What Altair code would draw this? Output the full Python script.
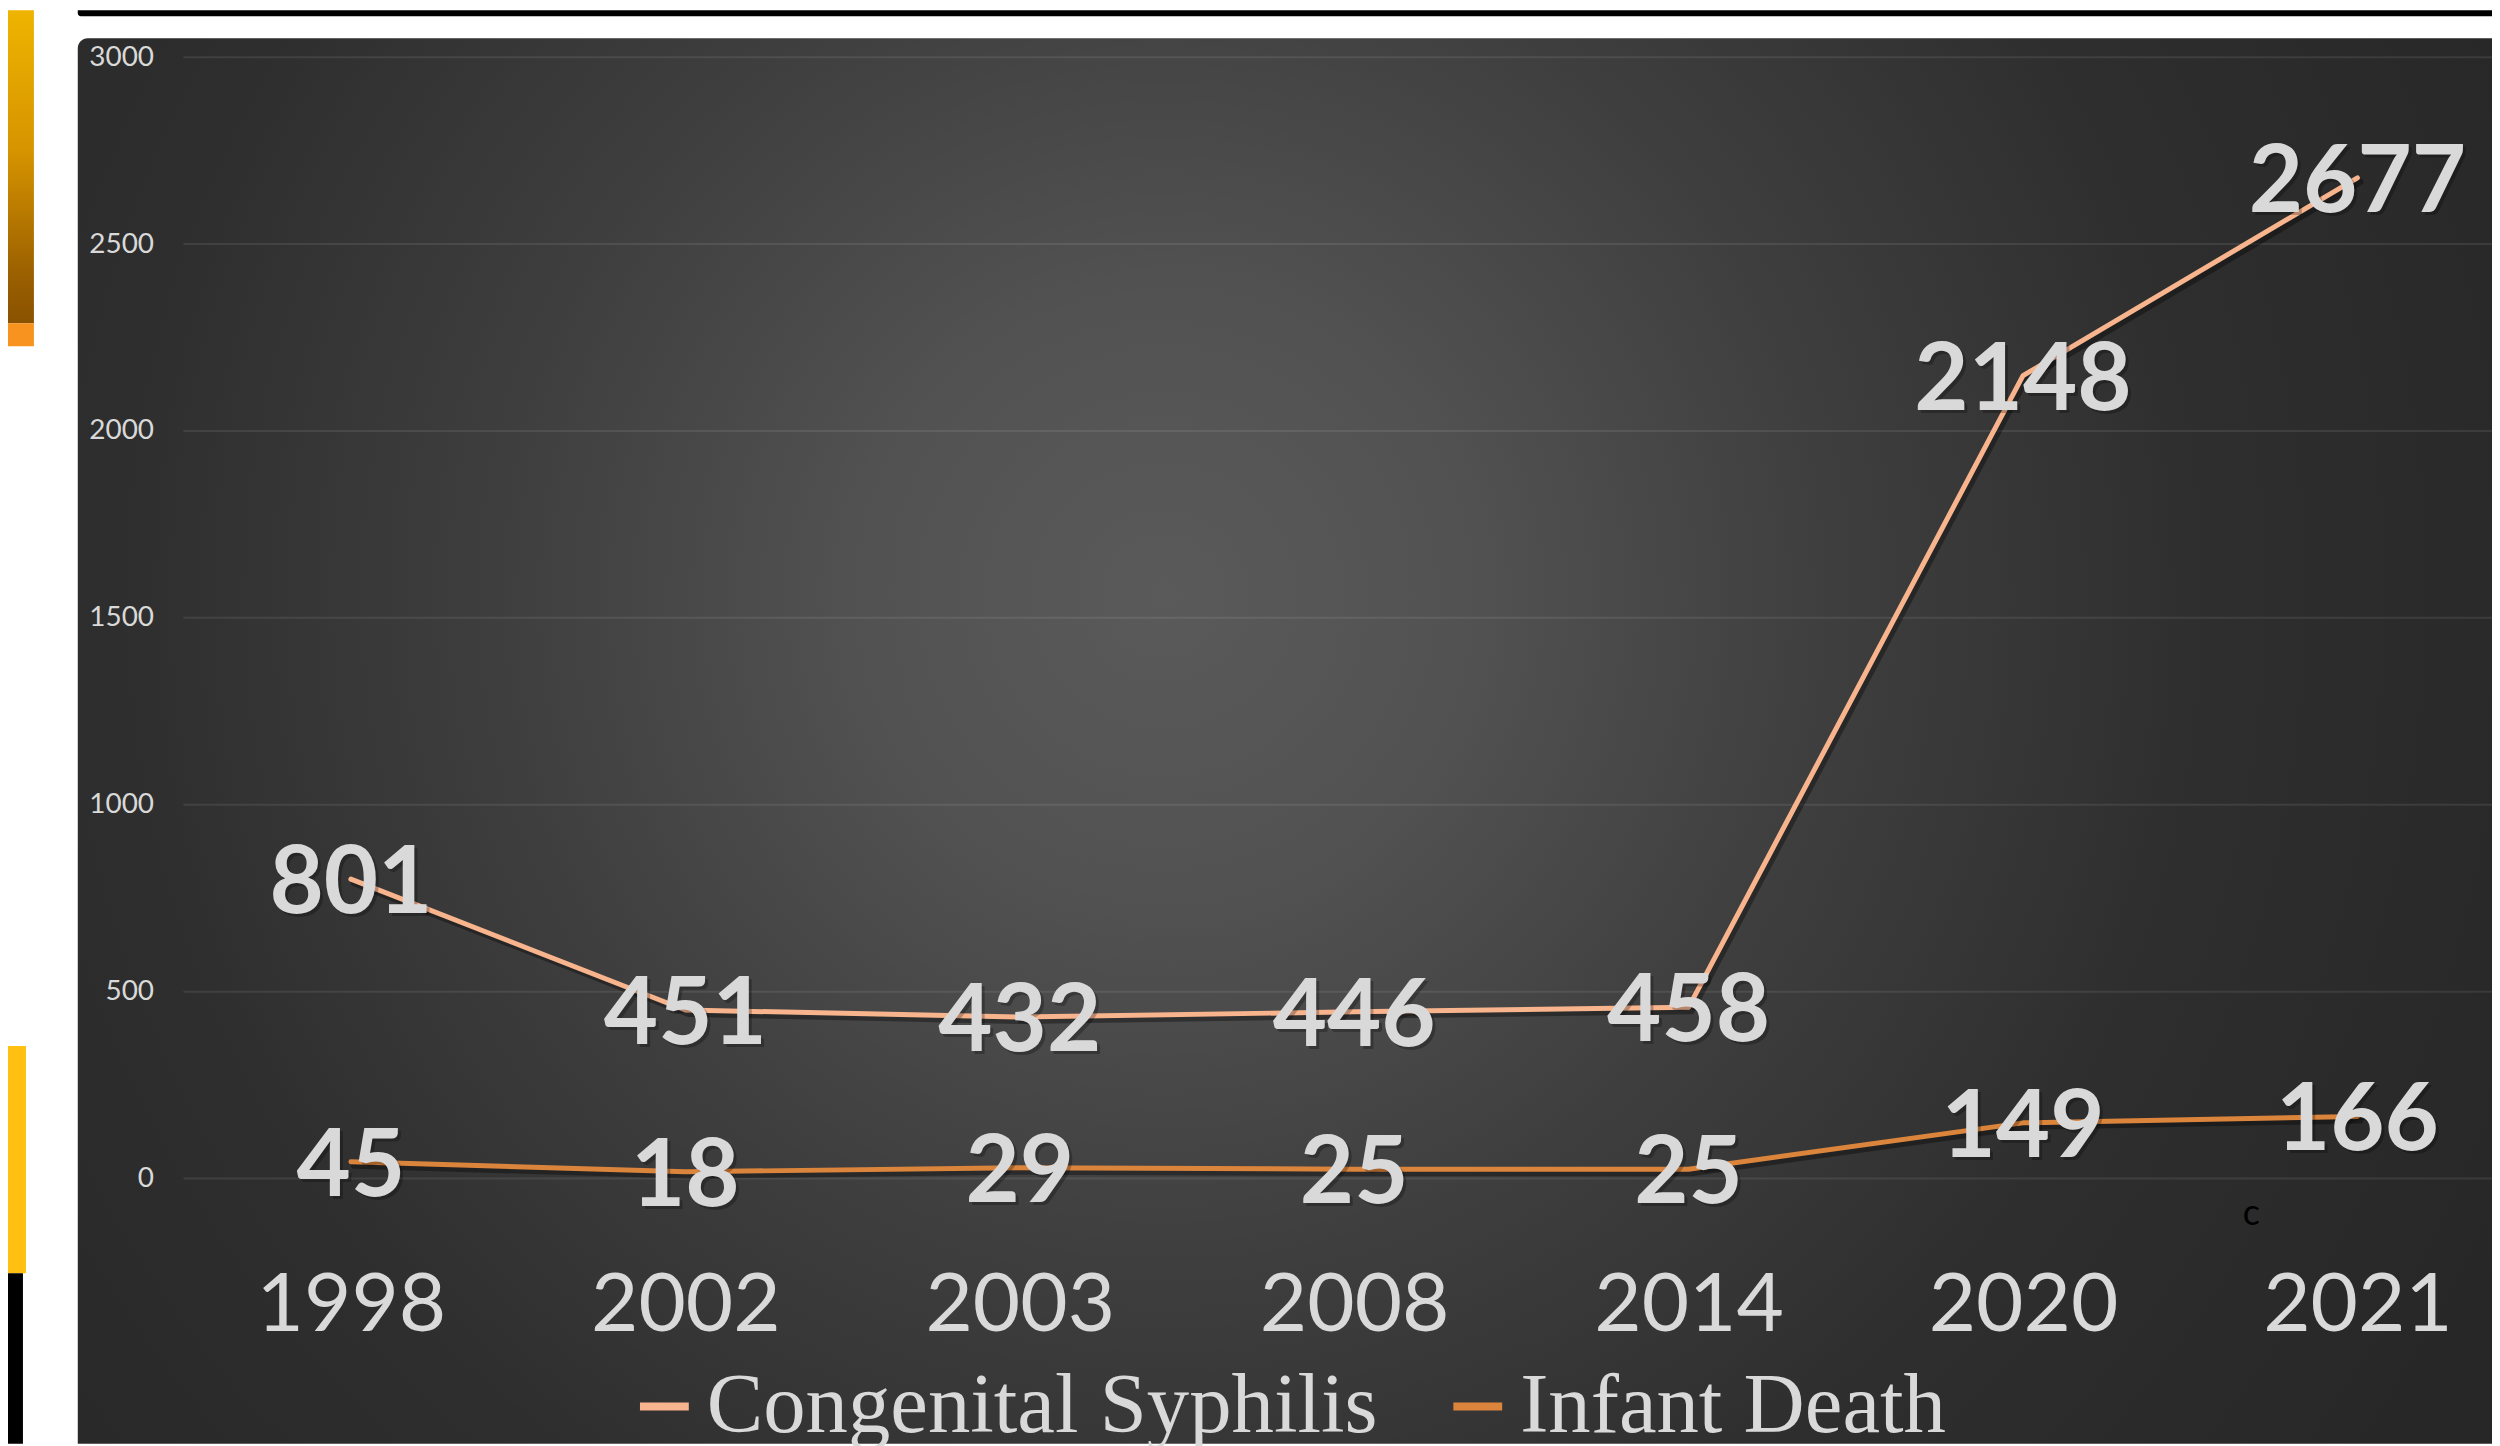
import altair as alt
import pandas as pd

# ---- data ----
years = ["1998", "2002", "2003", "2008", "2014", "2020", "2021"]
congenital_syphilis = [801, 451, 432, 446, 458, 2148, 2677]
infant_death = [45, 18, 29, 25, 25, 149, 166]
series_names = ["Congenital Syphilis", "Infant Death"]
series_colors = ["#F8B48D", "#DB843C"]
y_ticks = [0, 500, 1000, 1500, 2000, 2500, 3000]

rows = []
for name, vals in zip(series_names, [congenital_syphilis, infant_death]):
    for yr, v in zip(years, vals):
        rows.append({"year": yr, "value": v, "series": name})
df = pd.DataFrame(rows)
ticks_df = pd.DataFrame({"tick": y_ticks})
one = pd.DataFrame({"k": [0]})

# ---- layout ----
W, H = 2316, 1125
PAD_L, PAD_T, PAD_B = 176, 47, 266

x_scale = alt.Scale(type="point", domain=years, range=[168, 2181], padding=0)
y_scale = alt.Scale(domain=[0, 3000], nice=False, zero=True)
color_scale = alt.Scale(domain=series_names, range=series_colors)

x_axis = alt.Axis(title=None, labelFont="Lato", labelFontSize=82, labelColor="#D9D9D9",
                  labelAngle=0, domain=False, ticks=False, tickSize=0, grid=False,
                  labelPadding=152, labelBaseline="alphabetic", labelLimit=1000,
                  labelOverlap=False, zindex=1)
y_axis = alt.Axis(title=None, values=y_ticks, format="d", labelFont="Lato", labelFontSize=28,
                  labelColor="#D9D9D9", domain=False, ticks=False, tickSize=0,
                  grid=False, labelPadding=30, zindex=1)

X = alt.X("year:N", scale=x_scale, sort=years, axis=x_axis)

# ---- background panel (radial gradient) ----
panel_fill = {
    "gradient": "radial",
    "x1": 0.45, "y1": 0.44, "r1": 0,
    "x2": 0.45, "y2": 0.44, "r2": 0.62,
    "stops": [
        {"offset": 0.0, "color": "#5A5A5A"},
        {"offset": 0.2, "color": "#525252"},
        {"offset": 0.45, "color": "#3E3E3E"},
        {"offset": 0.7, "color": "#2E2E2E"},
        {"offset": 1.0, "color": "#272727"},
    ],
}
bg = alt.Chart(one).mark_rect(fill=panel_fill, cornerRadiusTopLeft=10).encode(
    x=alt.value(-106), x2=alt.value(W), y=alt.value(-19), y2=alt.value(H + PAD_B)
)

# ---- slide decorations ----
top_bar = alt.Chart(one).mark_rect(color="#000000", cornerRadiusBottomLeft=4).encode(
    x=alt.value(-106), x2=alt.value(W), y=alt.value(-PAD_T), y2=alt.value(-41)
)
left_grad_fill = {
    "gradient": "linear", "x1": 0, "y1": 0, "x2": 0, "y2": 1,
    "stops": [
        {"offset": 0.0, "color": "#EEB400"},
        {"offset": 0.45, "color": "#D69400"},
        {"offset": 0.85, "color": "#9A5F00"},
        {"offset": 1.0, "color": "#8A5200"},
    ],
}
left_grad = alt.Chart(one).mark_rect(fill=left_grad_fill).encode(
    x=alt.value(-184), x2=alt.value(-150), y=alt.value(-PAD_T), y2=alt.value(267)
)
left_orange = alt.Chart(one).mark_rect(color="#F7931E").encode(
    x=alt.value(-184), x2=alt.value(-150), y=alt.value(267), y2=alt.value(290)
)
left_yellow = alt.Chart(one).mark_rect(color="#FFC012").encode(
    x=alt.value(-184), x2=alt.value(-158), y=alt.value(992), y2=alt.value(1220)
)
left_black = alt.Chart(one).mark_rect(color="#000000").encode(
    x=alt.value(-177), x2=alt.value(-161), y=alt.value(1220), y2=alt.value(H + PAD_B)
)
stray_c = alt.Chart(one).mark_text(text="c", font="Lato", fontSize=36, color="#000000",
                                   align="left", baseline="alphabetic").encode(
    x=alt.value(2066), y=alt.value(1172)
)

# ---- gridlines through the y scale ----
grid = alt.Chart(ticks_df).mark_rule(color="#FFFFFF", opacity=0.085, strokeWidth=2).encode(
    y=alt.Y("tick:Q", scale=y_scale, axis=y_axis),
    x=alt.value(0), x2=alt.value(W),
)

Y = alt.Y("value:Q", scale=y_scale, axis=y_axis)

line_shadow = alt.Chart(df).mark_line(color="#000000", opacity=0.35, strokeWidth=6,
                                      xOffset=3, yOffset=4, strokeCap="round",
                                      strokeJoin="round").encode(
    x=X, y=Y, detail="series:N"
)
lines = alt.Chart(df).mark_line(strokeWidth=5, strokeCap="round", strokeJoin="round").encode(
    x=X, y=Y,
    color=alt.Color("series:N", scale=color_scale, sort=series_names,
                    legend=alt.Legend(title=None, columnPadding=58)),
)
label_shadow = alt.Chart(df).mark_text(font="Lato", fontWeight="bold", fontSize=94,
                                       color="#000000", opacity=0.25, align="center",
                                       baseline="middle", dx=3, dy=9).encode(
    x=X, y=Y, text=alt.Text("value:Q")
)
labels = alt.Chart(df).mark_text(font="Lato", fontWeight="bold", fontSize=94,
                                 color="#D9D9D9", align="center", baseline="middle",
                                 dy=6).encode(
    x=X, y=Y, text=alt.Text("value:Q")
)

chart = alt.layer(
    bg, top_bar, left_grad, left_orange, left_yellow, left_black,
    grid, line_shadow, lines, label_shadow, labels, stray_c
).properties(
    width=W, height=H,
    autosize=alt.AutoSizeParams(type="none"),
    padding={"left": PAD_L, "top": PAD_T, "right": 0, "bottom": PAD_B},
    background="#FFFFFF",
).configure_view(
    stroke=None
).configure_legend(
    orient="none", legendX=440, legendY=1311, direction="horizontal",
    symbolType="stroke", symbolStrokeWidth=8, symbolSize=2400,
    labelFont="Liberation Serif", labelFontSize=85, labelColor="#D9D9D9",
    labelOffset=0, padding=0, labelLimit=2000,
)

chart.save("out.html", embed_options={"renderer": "svg", "actions": False})
